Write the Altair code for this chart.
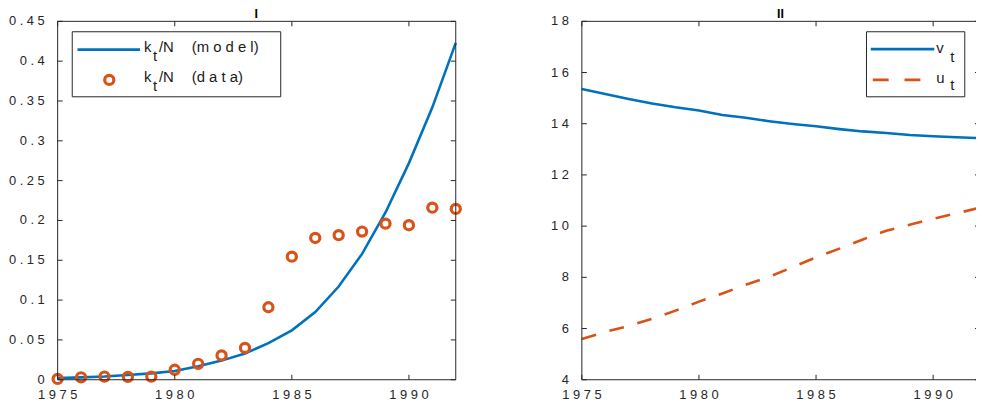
import altair as alt
import pandas as pd

# ---------------- data ----------------
years = [1975, 1976, 1977, 1978, 1979, 1980, 1981, 1982, 1983,
         1984, 1985, 1986, 1987, 1988, 1989, 1990, 1991, 1992]
kN_model = [0.002, 0.003, 0.004, 0.006, 0.008, 0.011, 0.017, 0.024, 0.033,
            0.046, 0.062, 0.085, 0.117, 0.158, 0.210, 0.272, 0.342, 0.423]
kN_data = [0.001, 0.003, 0.004, 0.0035, 0.004, 0.0125, 0.020, 0.0305, 0.040,
           0.091, 0.1545, 0.178, 0.1815, 0.186, 0.196, 0.194, 0.216, 0.2145]
v_t = [15.36, 15.16, 14.97, 14.79, 14.64, 14.52, 14.34, 14.23, 14.10,
       13.99, 13.90, 13.79, 13.70, 13.64, 13.56, 13.51, 13.47, 13.44]
u_t = [5.59, 5.87, 6.10, 6.38, 6.70, 7.05, 7.37, 7.71, 8.02,
       8.40, 8.78, 9.12, 9.48, 9.82, 10.05, 10.29, 10.50, 10.72]

x_ticks = [1975, 1980, 1985, 1990]
x_labels = ["1975", "1980", "1985", "1990"]
y1_ticks = [0, 0.05, 0.1, 0.15, 0.2, 0.25, 0.3, 0.35, 0.4, 0.45]
y1_labels = ["0", "0.05", "0.1", "0.15", "0.2", "0.25", "0.3", "0.35", "0.4", "0.45"]
y2_ticks = [4, 6, 8, 10, 12, 14, 16, 18]
y2_labels = ["4", "6", "8", "10", "12", "14", "16", "18"]

# ---------------- layout / style ----------------
FONT = "Liberation Sans"
AX = "#262626"
BLUE = "#0072BD"
ORANGE = "#D95319"
H = 361                 # plot height (both panels)
PW = 401                # panel width
X1 = 0                  # left edge of panel I
X2 = 528                # left edge of panel II
TOTAL_W = 925           # drawing area (panel II runs past the window edge)
TL = 5                  # inward tick length


def spaced(labels):
    # MATLAB-export look: wide letter spacing
    return [" ".join(list(s)) for s in labels]


df1 = pd.DataFrame({"year": years, "model": kN_model, "data": kN_data})
df2 = pd.DataFrame({"year": years, "v": v_t, "u": u_t})
one = pd.DataFrame({"a": [0]})


def xscale(x0):
    return alt.Scale(domain=[1975, 1992], range=[x0, x0 + PW], nice=False, zero=False)


def yscale(dom):
    return alt.Scale(domain=dom, range=[H, 0], nice=False, zero=False)


def frame(x0, ydom, yticks, ylabels, right_border=True):
    xs, ys = xscale(x0), yscale(ydom)
    W = x0 + PW
    xt = pd.DataFrame({"t": x_ticks, "lab": spaced(x_labels)})
    yt = pd.DataFrame({"t": yticks, "lab": spaced(ylabels)})
    rule = dict(color=AX, strokeWidth=1)
    layers = [
        alt.Chart(one).mark_rule(**rule).encode(x=alt.value(x0), y=alt.value(0), y2=alt.value(H)),
        alt.Chart(one).mark_rule(**rule).encode(x=alt.value(x0), x2=alt.value(W), y=alt.value(H)),
        alt.Chart(one).mark_rule(**rule).encode(x=alt.value(x0), x2=alt.value(W), y=alt.value(0)),
        alt.Chart(xt).mark_rule(**rule).encode(
            x=alt.X("t:Q", scale=xs, axis=None), y=alt.value(H), y2=alt.value(H - TL)),
        alt.Chart(xt).mark_rule(**rule).encode(
            x=alt.X("t:Q", scale=xs, axis=None), y=alt.value(0), y2=alt.value(TL)),
        alt.Chart(yt).mark_rule(**rule).encode(
            y=alt.Y("t:Q", scale=ys, axis=None), x=alt.value(x0), x2=alt.value(x0 + TL)),
        alt.Chart(yt).mark_rule(**rule).encode(
            y=alt.Y("t:Q", scale=ys, axis=None), x=alt.value(W - TL), x2=alt.value(W)),
        alt.Chart(xt).mark_text(font=FONT, fontSize=13, color=AX, align="center",
                                baseline="top").encode(
            x=alt.X("t:Q", scale=xs, axis=None), y=alt.value(H + 9), text="lab:N"),
        alt.Chart(yt).mark_text(font=FONT, fontSize=13, color=AX, align="right",
                                baseline="middle").encode(
            y=alt.Y("t:Q", scale=ys, axis=None), x=alt.value(x0 - 13), text="lab:N"),
    ]
    if right_border:
        layers.append(alt.Chart(one).mark_rule(**rule).encode(
            x=alt.value(W), y=alt.value(0), y2=alt.value(H)))
    return layers


def txt(s, x, y, size=15, weight="normal", align="left", color="#1a1a1a"):
    return alt.Chart(one).mark_text(align=align, baseline="alphabetic", font=FONT,
                                    fontSize=size, fontWeight=weight, color=color).encode(
        x=alt.value(x), y=alt.value(y), text=alt.value(s))


# ---------------- panel I ----------------
xs1, ys1 = xscale(X1), yscale([0, 0.45])

line1 = alt.Chart(df1).mark_line(color=BLUE, strokeWidth=2.6).encode(
    x=alt.X("year:Q", scale=xs1, axis=None),
    y=alt.Y("model:Q", scale=ys1, axis=None))
pts1 = alt.Chart(df1).mark_point(shape="circle", filled=False, color=ORANGE,
                                 strokeWidth=3.2, size=85, opacity=1).encode(
    x=alt.X("year:Q", scale=xs1, axis=None),
    y=alt.Y("data:Q", scale=ys1, axis=None))

leg1 = [
    alt.Chart(one).mark_rect(fill="white", stroke=AX, strokeWidth=1).encode(
        x=alt.value(14.7), x2=alt.value(224.7), y=alt.value(10.5), y2=alt.value(76)),
    alt.Chart(one).mark_rule(color=BLUE, strokeWidth=2.6).encode(
        x=alt.value(20), x2=alt.value(83), y=alt.value(28.5)),
    alt.Chart(one).mark_point(shape="circle", filled=False, color=ORANGE,
                              strokeWidth=3.2, size=85, opacity=1).encode(
        x=alt.value(52), y=alt.value(59)),
    txt("k", 87, 30.5), txt("t", 96, 40.3), txt("/N", 102, 30.5), txt("(m o d e l)", 135, 30.5),
    txt("k", 87, 61.3), txt("t", 96, 70.3), txt("/N", 102, 61.3), txt("(d a t a)", 135, 61.3),
]

panel1 = [line1, pts1, *frame(X1, [0, 0.45], y1_ticks, y1_labels), *leg1,
          txt("I", X1 + 200, -3, size=12.5, weight="bold", align="center", color="black")]

# ---------------- panel II ----------------
xs2, ys2 = xscale(X2), yscale([4, 18])

line_v = alt.Chart(df2).mark_line(color=BLUE, strokeWidth=2.6, clip=True).encode(
    x=alt.X("year:Q", scale=xs2, axis=None),
    y=alt.Y("v:Q", scale=ys2, axis=None))
line_u = alt.Chart(df2).mark_line(color=ORANGE, strokeWidth=2.6, strokeDash=[15, 14],
                                  clip=True).encode(
    x=alt.X("year:Q", scale=xs2, axis=None),
    y=alt.Y("u:Q", scale=ys2, axis=None))

leg2 = [
    alt.Chart(one).mark_rect(fill="white", stroke=AX, strokeWidth=1).encode(
        x=alt.value(X2 + 286.7), x2=alt.value(X2 + 385.7), y=alt.value(10.5), y2=alt.value(76)),
    alt.Chart(one).mark_rule(color=BLUE, strokeWidth=2.6).encode(
        x=alt.value(X2 + 291), x2=alt.value(X2 + 355), y=alt.value(28)),
    alt.Chart(one).mark_rule(color=ORANGE, strokeWidth=2.6, strokeDash=[16, 16]).encode(
        x=alt.value(X2 + 293), x2=alt.value(X2 + 341), y=alt.value(59)),
    txt("v", X2 + 357, 31.5), txt("t", X2 + 371, 40.5),
    txt("u", X2 + 357, 62), txt("t", X2 + 371, 69),
]

panel2 = [line_v, line_u, *frame(X2, [4, 18], y2_ticks, y2_labels, right_border=False), *leg2,
          txt("II", X2 + 200, -3, size=12.5, weight="bold", align="center", color="black")]

chart = alt.layer(*panel1, *panel2).resolve_scale(
    x="independent", y="independent"
).properties(
    width=TOTAL_W, height=H,
    autosize=alt.AutoSizeParams(type="none"),
    padding={"left": 50, "top": 12, "right": 0, "bottom": 21},
    background="white",
).configure_view(stroke="transparent")

chart.save("out.html", embed_options={"renderer": "svg", "actions": False})
